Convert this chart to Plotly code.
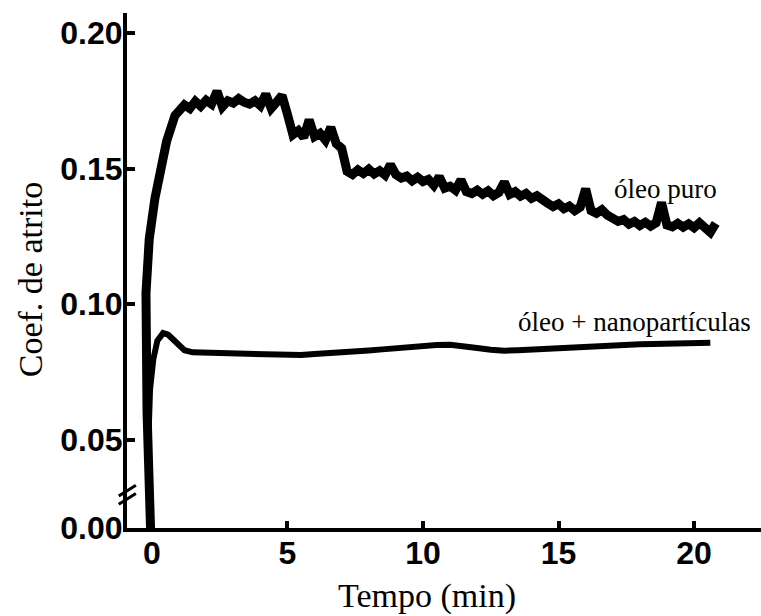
import plotly.graph_objects as go

# ---- data ----
tempo_puro = [0.0, -0.18, -0.22, -0.1, 0.11, 0.36, 0.54, 0.85,
              1.0, 1.2, 1.4, 1.6, 1.8, 2.0, 2.2, 2.4, 2.6, 2.8, 3.0, 3.2, 3.4, 3.6, 3.8, 4.0,
              4.2, 4.4, 4.6, 4.8, 5.0, 5.2, 5.4, 5.6, 5.8, 6.0, 6.2, 6.4, 6.6, 6.8, 7.0,
              7.2, 7.4, 7.6, 7.8, 8.0, 8.2, 8.4, 8.6, 8.8, 9.0, 9.2, 9.4, 9.6, 9.8, 10.0,
              10.2, 10.4, 10.6, 10.8, 11.0, 11.2, 11.4, 11.6, 11.8, 12.0, 12.2, 12.4, 12.6,
              12.8, 13.0, 13.2, 13.4, 13.6, 13.8, 14.0, 14.2, 14.4, 14.6, 14.8, 15.0, 15.2,
              15.4, 15.6, 15.8, 16.0, 16.2, 16.4, 16.6, 16.8, 17.0, 17.2, 17.4, 17.6, 17.8,
              18.0, 18.2, 18.4, 18.6, 18.8, 19.0, 19.2, 19.4, 19.6, 19.8, 20.0, 20.2, 20.4,
              20.6, 20.8]
coef_puro = [0.0, 0.060, 0.104, 0.124, 0.139, 0.150, 0.160, 0.1696,
             0.1715, 0.1735, 0.1722, 0.1748, 0.1730, 0.1752, 0.1738, 0.1785, 0.1728, 0.1750,
             0.1742, 0.1758, 0.1745, 0.1738, 0.1750, 0.1732,
             0.1775, 0.1722, 0.1745, 0.1770, 0.1700, 0.1625, 0.1640, 0.1615, 0.1680, 0.1618,
             0.1630, 0.1605, 0.1652, 0.1592, 0.1575,
             0.1490, 0.1478, 0.1495, 0.1482, 0.1498, 0.1480, 0.1492, 0.1476, 0.1515, 0.1478,
             0.1465, 0.1472, 0.1455, 0.1468, 0.1452,
             0.1460, 0.1438, 0.1470, 0.1428, 0.1435, 0.1420, 0.1458, 0.1415, 0.1408, 0.1420,
             0.1405, 0.1418, 0.1400,
             0.1412, 0.1450, 0.1405, 0.1415, 0.1398, 0.1408, 0.1390, 0.1400, 0.1382, 0.1372,
             0.1360, 0.1370, 0.1352,
             0.1362, 0.1345, 0.1358, 0.1425, 0.1345, 0.1335, 0.1348, 0.1328, 0.1318, 0.1305,
             0.1312, 0.1295, 0.1305,
             0.1290, 0.1302, 0.1288, 0.1300, 0.1375, 0.1292, 0.1285, 0.1298, 0.1284, 0.1296,
             0.1282, 0.1300, 0.1285,
             0.1265, 0.1298]

tempo_nano = [0.0, -0.14, -0.07, 0.05, 0.2, 0.41, 0.6, 0.8, 1.0, 1.2, 1.5, 2.0, 2.5, 3.0,
              3.5, 4.0, 4.5, 5.0, 5.5, 6.0, 6.5, 7.0, 7.5, 8.0, 8.5, 9.0, 9.5, 10.0, 10.5,
              11.0, 11.5, 12.0, 12.5, 13.0, 13.5, 14.0, 14.5, 15.0, 15.5, 16.0, 16.5, 17.0,
              17.5, 18.0, 18.5, 19.0, 19.5, 20.0, 20.6]
coef_nano = [0.0, 0.047, 0.0685, 0.0796, 0.0865, 0.0893, 0.0887, 0.0868, 0.0846, 0.0830,
             0.0822, 0.0821, 0.0820, 0.0819, 0.0818, 0.0816, 0.0814, 0.0811, 0.0812, 0.0816,
             0.0818, 0.0822, 0.0826, 0.0829, 0.0833, 0.0838, 0.0842, 0.0845, 0.0849, 0.0850,
             0.0846, 0.0838, 0.0832, 0.0828, 0.0830, 0.0833, 0.0835, 0.0836, 0.0838, 0.0840,
             0.0843, 0.0846, 0.0849, 0.0852, 0.0853, 0.0854, 0.0855, 0.0856, 0.0857]

x_ticks = [0, 5, 10, 15, 20]
x_ticktext = ["0", "5", "10", "15", "20"]
# broken axis: the "0.00" label sits just below 0.05 (axis break)
y_ticks = [0.0174, 0.05, 0.10, 0.15, 0.20]
y_ticktext = ["0.00", "0.05", "0.10", "0.15", "0.20"]

label_puro = "óleo puro"
label_nano = "óleo + nanopartículas"
x_title = "Tempo (min)"
y_title = "Coef. de atrito"

# ---- figure ----
fig = go.Figure()
fig.add_trace(go.Scatter(x=tempo_nano, y=coef_nano, mode="lines",
                         line=dict(color="black", width=6), showlegend=False))
fig.add_trace(go.Scatter(x=tempo_puro, y=coef_puro, mode="lines",
                         line=dict(color="black", width=9), showlegend=False))

tick_font = dict(family="Liberation Sans, Arial", size=32, color="black", weight="bold")
serif = "Liberation Serif, Times New Roman"

fig.update_xaxes(range=[-0.92, 22.47], tickvals=x_ticks, ticktext=x_ticktext,
                 ticks="inside", ticklen=7, tickwidth=4, tickcolor="black",
                 showline=True, linewidth=4, linecolor="black",
                 showgrid=False, zeroline=False, tickfont=tick_font,
                 ticklabelstandoff=-6)
fig.update_yaxes(range=[0.0174, 0.2074], tickvals=y_ticks, ticktext=y_ticktext,
                 ticks="inside", ticklen=8, tickwidth=4, tickcolor="black",
                 showline=True, linewidth=4, linecolor="black",
                 showgrid=False, zeroline=False, tickfont=tick_font,
                 ticklabelstandoff=-6)

fig.add_annotation(x=18.93, y=0.1426, text=label_puro, showarrow=False,
                   font=dict(family=serif, size=27, color="black"),
                   xanchor="center", yanchor="middle")
fig.add_annotation(x=17.8, y=0.0933, text=label_nano, showarrow=False,
                   font=dict(family=serif, size=27, color="black"),
                   xanchor="center", yanchor="middle")
fig.add_annotation(xref="paper", yref="paper", x=0.4724, y=-0.132, text=x_title,
                   showarrow=False, font=dict(family=serif, size=34, color="black"),
                   xanchor="center", yanchor="middle")
fig.add_annotation(xref="paper", yref="paper", x=-0.151, y=0.4816, text=y_title,
                   textangle=-90, showarrow=False,
                   font=dict(family=serif, size=34, color="black"),
                   xanchor="center", yanchor="middle")

# axis break mark on the y axis
for y0, y1 in [(0.062, 0.083), (0.046, 0.067)]:
    fig.add_shape(type="line", xref="paper", yref="paper",
                  x0=-0.013, x1=0.014, y0=y0, y1=y1,
                  line=dict(color="black", width=3))

fig.update_layout(width=761, height=616, plot_bgcolor="white", paper_bgcolor="white",
                  margin=dict(l=127, r=0, t=13, b=88), showlegend=False)

fig.write_html("out.html")
